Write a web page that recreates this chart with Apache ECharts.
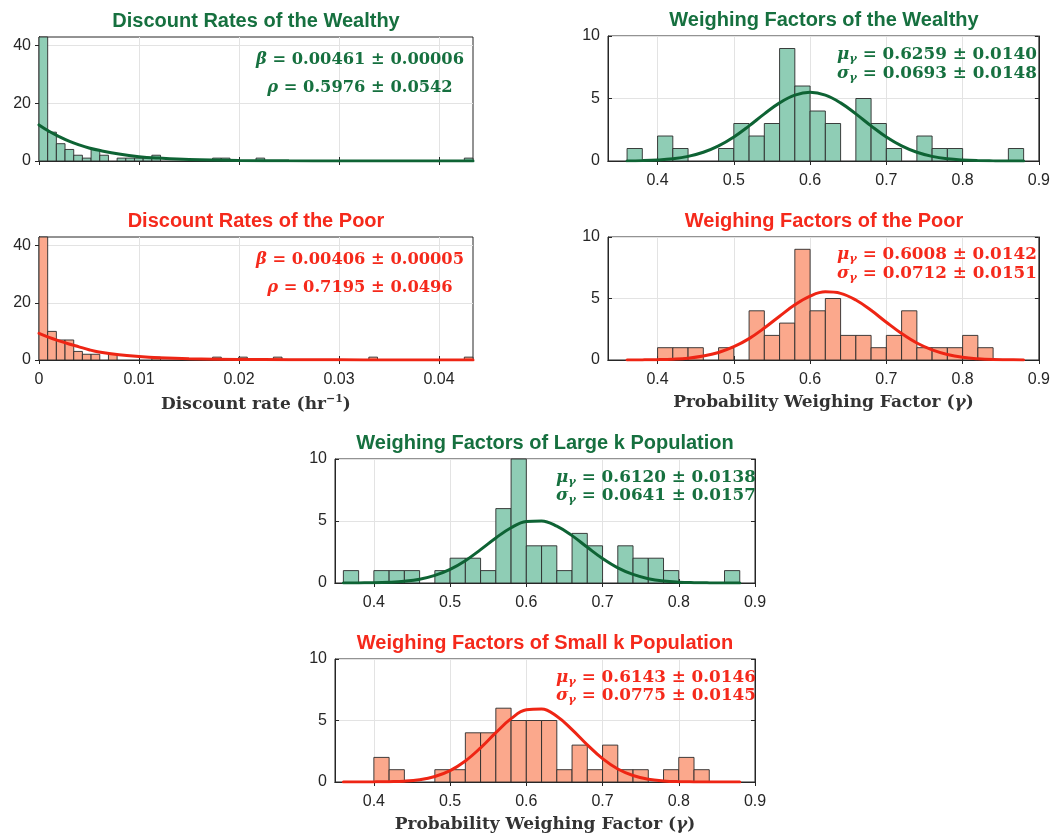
<!DOCTYPE html>
<html><head><meta charset="utf-8">
<script src="https://cdn.jsdelivr.net/npm/echarts@6/dist/echarts.min.js"></script>
<style>html,body{margin:0;padding:0;background:#fff}#c{width:1053px;height:835px}</style>
</head><body><div id="c"></div>
<script>
// ---------------- data ----------------
const discountBinWidth = 0.000868;
const discountWealthyCounts = [43,10,6,4,2,1,4,2,0,1, 1,1,1,2,0,0,0,0,0,0, 1,1,0,0,0,1,0,0,0,0, 0,0,0,0,0,0,0,0,0,0, 0,0,0,0,0,0,0,0,0,1];
const discountPoorCounts    = [43,10,7,7,3,2,2,0,2,0, 0,0,0,1,0,0,0,0,0,0, 1,0,0,1,0,0,0,1,0,0, 0,0,0,0,0,0,0,0,1,0, 0,0,0,0,0,0,0,0,0,1];
const discountFitX        = [0, 0.001, 0.002, 0.003, 0.004, 0.005, 0.006, 0.008, 0.010, 0.012, 0.015, 0.020, 0.025, 0.030, 0.035, 0.0434];
const discountWealthyFit  = [12.5, 10.3, 8.5, 6.9, 5.6, 4.5, 3.7, 2.4, 1.5, 1.0, 0.5, 0.15, 0.05, 0.02, 0.01, 0.0];
const discountPoorFit     = [9.3, 7.9, 6.7, 5.6, 4.6, 3.6, 2.8, 1.8, 1.2, 0.8, 0.45, 0.2, 0.1, 0.05, 0.02, 0.01];
const discountXTicks = [0, 0.01, 0.02, 0.03, 0.04];
const discountYTicks = [0, 20, 40];

const gammaBinLeft = [0.36,0.38,0.40,0.42,0.44,0.46,0.48,0.50,0.52,0.54,0.56,0.58,0.60,0.62,0.64,0.66,0.68,0.70,0.72,0.74,0.76,0.78,0.80,0.82,0.84,0.86];
const gammaBinWidth = 0.02;
const gammaWealthyCounts = [1,0,2,1,0,0,1,3,2,3,9,6,4,3,0,5,3,1,0,2,1,1,0,0,0,1];
const gammaPoorCounts    = [0,0,1,1,1,0,1,0,4,2,3,9,4,5,2,2,1,2,4,1,1,1,2,1,0,0];
const gammaLargeCounts   = [1,0,1,1,1,0,1,2,2,1,6,10,3,3,1,4,3,0,3,2,2,1,0,0,0,1];
const gammaSmallCounts   = [0,0,2,1,0,0,1,1,4,4,6,5,5,5,1,3,1,3,1,1,0,1,2,1,0,0];
const gammaFitX = [0.36,0.38,0.40,0.42,0.44,0.46,0.48,0.50,0.52,0.54,0.56,0.58,0.60,0.62,0.64,0.66,0.68,0.70,0.72,0.74,0.76,0.78,0.80,0.82,0.84,0.86,0.88];
const gammaWealthyFit = [0.01,0.03,0.08,0.18,0.37,0.70,1.21,1.92,2.81,3.77,4.65,5.27,5.50,5.27,4.65,3.77,2.81,1.92,1.21,0.70,0.37,0.18,0.08,0.03,0.01,0.0,0.0];
const gammaPoorFit    = [0.0,0.01,0.03,0.07,0.15,0.32,0.61,1.08,1.74,2.60,3.56,4.49,5.20,5.54,5.42,4.88,4.04,3.07,2.15,1.38,0.82,0.45,0.22,0.10,0.04,0.02,0.0];
const gammaLargeFit   = [0.0,0.01,0.02,0.06,0.14,0.30,0.61,1.10,1.80,2.69,3.63,4.46,4.96,5.01,4.59,3.82,2.88,1.97,1.22,0.69,0.35,0.16,0.07,0.03,0.01,0.0,0.0];
const gammaSmallFit   = [0.0,0.0,0.01,0.03,0.07,0.19,0.45,0.93,1.71,2.78,4.01,5.15,5.87,5.94,5.34,4.26,3.02,1.90,1.06,0.53,0.23,0.09,0.03,0.01,0.0,0.0,0.0];
const gammaXTicks = [0.4, 0.5, 0.6, 0.7, 0.8, 0.9];
const gammaYTicks = [0, 5, 10];

const titles = ['Discount Rates of the Wealthy','Discount Rates of the Poor','Weighing Factors of the Wealthy','Weighing Factors of the Poor','Weighing Factors of Large k Population','Weighing Factors of Small k Population'];
const annot = [
  [['β',null,'= 0.00461 ± 0.00006'],['ρ',null,'= 0.5976 ± 0.0542']],
  [['β',null,'= 0.00406 ± 0.00005'],['ρ',null,'= 0.7195 ± 0.0496']],
  [['μ','γ','= 0.6259 ± 0.0140'],['σ','γ','= 0.0693 ± 0.0148']],
  [['μ','γ','= 0.6008 ± 0.0142'],['σ','γ','= 0.0712 ± 0.0151']],
  [['μ','γ','= 0.6120 ± 0.0138'],['σ','γ','= 0.0641 ± 0.0157']],
  [['μ','γ','= 0.6143 ± 0.0146'],['σ','γ','= 0.0775 ± 0.0145']]
];

// ---------------- style ----------------
const GREEN = {text:'#16703f', bar:'#8fcdb5', line:'#0e6334'};
const RED   = {text:'#f5291b', bar:'#fba88c', line:'#ee2514'};
const AX = '#262626';
const SANS = 'Liberation Sans, Arial, sans-serif';
const SERIF = 'DejaVu Serif, serif';

const panels = [
  {box:{left:39, top:37, width:434, height:124}, col:GREEN, kind:'d', counts:discountWealthyCounts, fit:discountWealthyFit, xLabels:false, xName:null, annX:360, annAlign:'center', annY:[60,88], annSize:16.3},
  {box:{left:39, top:237, width:434, height:123}, col:RED, kind:'d', counts:discountPoorCounts, fit:discountPoorFit, xLabels:true, xName:'d', annX:360, annAlign:'center', annY:[260,288], annSize:16.3},
  {box:{left:608, top:36, width:432, height:125}, col:GREEN, kind:'g', xmin:0.335, counts:gammaWealthyCounts, fit:gammaWealthyFit, xLabels:true, xName:null, annX:837, annAlign:'left', annY:[55,74], annSize:16.8},
  {box:{left:608, top:237, width:432, height:123}, col:RED, kind:'g', xmin:0.335, counts:gammaPoorCounts, fit:gammaPoorFit, xLabels:true, xName:'g', annX:837, annAlign:'left', annY:[255,274], annSize:16.8},
  {box:{left:335, top:459, width:420, height:124}, col:GREEN, kind:'g', xmin:0.349, counts:gammaLargeCounts, fit:gammaLargeFit, xLabels:true, xName:null, annX:556, annAlign:'left', annY:[478,496], annSize:16.8},
  {box:{left:335, top:659, width:420, height:123}, col:RED, kind:'g', xmin:0.349, counts:gammaSmallCounts, fit:gammaSmallFit, xLabels:true, xName:'g', annX:556, annAlign:'left', annY:[678,696], annSize:16.8}
];

const grid = [], xAxis = [], yAxis = [], series = [], graphic = [];

function renderBar(params, api) {
  const h = api.value(2);
  if (!h) return null;
  const p0 = api.coord([api.value(0), h]);
  const p1 = api.coord([api.value(1), 0]);
  return {type:'rect', shape:{x:p0[0], y:p0[1], width:p1[0]-p0[0], height:p1[1]-p0[1]},
    style:{fill: params.context.fillColor, stroke:'#2a2a2a', lineWidth:0.9}};
}

panels.forEach((p, i) => {
  grid.push(Object.assign({show:true, borderColor:AX, borderWidth:1, backgroundColor:'#fff', containLabel:false}, p.box));
  const isD = p.kind === 'd';
  const xmin = isD ? 0 : p.xmin;
  const xmax = isD ? discountBinWidth * discountWealthyCounts.length : 0.9;
  const ymax = isD ? 43 : 10;
  const xt = isD ? discountXTicks : gammaXTicks;
  const yt = isD ? discountYTicks : gammaYTicks;
  const nameRich = {
    a:{fontFamily:SERIF, fontWeight:'bold', fontSize:17, color:'#333'},
    s:{fontFamily:SERIF, fontWeight:'bold', fontSize:11, color:'#333', padding:[0,0,10,0]},
    g:{fontFamily:SERIF, fontWeight:'bold', fontStyle:'italic', fontSize:17, color:'#333'}
  };
  const xa = {
    type:'value', gridIndex:i, min:xmin, max:xmax, position:'bottom',
    axisLine:{show:true, onZero:false, lineStyle:{color:AX, width:1}},
    axisTick:{show:true, inside:true, length:4, customValues:xt, lineStyle:{color:AX}},
    axisLabel:{show:p.xLabels, customValues:xt, margin:12, color:AX, fontFamily:SANS, fontSize:16,
      formatter: v => String(+v.toFixed(3))},
    splitLine:{show:true, lineStyle:{color:'#e3e3e3', width:1}}
  };
  if (p.xName === 'd') {
    xa.name = '{a|Discount rate (hr}{s|−1}{a|)}';
    xa.nameLocation = 'middle'; xa.nameGap = 34;
    xa.nameTextStyle = {rich:nameRich};
  } else if (p.xName === 'g') {
    xa.name = '{a|Probability Weighing Factor (}{g|γ}{a|)}';
    xa.nameLocation = 'middle'; xa.nameGap = 34;
    xa.nameTextStyle = {rich:nameRich};
  }
  xAxis.push(xa);
  xAxis.push({type:'value', gridIndex:i, min:xmin, max:xmax, position:'top',
    axisLine:{show:true, lineStyle:{color:AX}}, axisTick:{show:true, inside:true, length:4, customValues:xt, lineStyle:{color:AX}},
    axisLabel:{show:false}, splitLine:{show:false}});
  yAxis.push({type:'value', gridIndex:i, min:0, max:ymax, position:'left',
    axisLine:{show:true, onZero:false, lineStyle:{color:AX}},
    axisTick:{show:true, inside:true, length:4, customValues:yt, lineStyle:{color:AX}},
    axisLabel:{show:true, customValues:yt, margin:8, color:AX, fontFamily:SANS, fontSize:16},
    splitLine:{show:true, lineStyle:{color:'#e3e3e3', width:1}}});
  yAxis.push({type:'value', gridIndex:i, min:0, max:ymax, position:'right',
    axisLine:{show:true, lineStyle:{color:AX}}, axisTick:{show:true, inside:true, length:4, customValues:yt, lineStyle:{color:AX}},
    axisLabel:{show:false}, splitLine:{show:false}});

  const barData = p.counts.map((c, k) => isD
    ? [k*discountBinWidth, (k+1)*discountBinWidth, c]
    : [gammaBinLeft[k], gammaBinLeft[k] + gammaBinWidth, c]);
  const fillColor = p.col.bar;
  series.push({type:'custom', xAxisIndex:2*i, yAxisIndex:2*i, data:barData, encode:{x:[0,1], y:2},
    renderItem:(params, api) => { params.context.fillColor = fillColor; return renderBar(params, api); }, z:2, silent:true});
  const fx = isD ? discountFitX : gammaFitX;
  series.push({type:'line', xAxisIndex:2*i, yAxisIndex:2*i, data:fx.map((x,k)=>[x, p.fit[k]]), smooth:0.4,
    showSymbol:false, symbol:'none', lineStyle:{color:p.col.line, width:3, cap:'round'}, z:3, silent:true, clip:true});

  // title
  graphic.push({type:'text', x:p.box.left + p.box.width/2, y:p.box.top - 16,
    style:{text:titles[i], fill:p.col.text, font:'bold 20px ' + SANS, textAlign:'center', textVerticalAlign:'middle'}});
  // annotations
  annot[i].forEach((ln, j) => {
    const base = {fontFamily:SERIF, fontWeight:'bold', fontSize:p.annSize, fill:p.col.text};
    let txt = '{g|' + ln[0] + '}';
    if (ln[1]) txt += '{s|' + ln[1] + '}';
    txt += '{n| ' + ln[2] + '}';
    graphic.push({type:'text', x:p.annX, y:p.annY[j], z:10,
      style:{text:txt, textAlign:p.annAlign, textVerticalAlign:'middle',
        rich:{
          g:Object.assign({}, base, {fontStyle:'italic'}),
          s:Object.assign({}, base, {fontStyle:'italic', fontSize:11.5, padding:[9,0,0,0]}),
          n:Object.assign({}, base)
        }}});
  });
});

const chart = echarts.init(document.getElementById('c'), null, {renderer:'canvas'});
chart.setOption({animation:false, backgroundColor:'#fff', grid, xAxis, yAxis, series, graphic});
</script></body></html>
